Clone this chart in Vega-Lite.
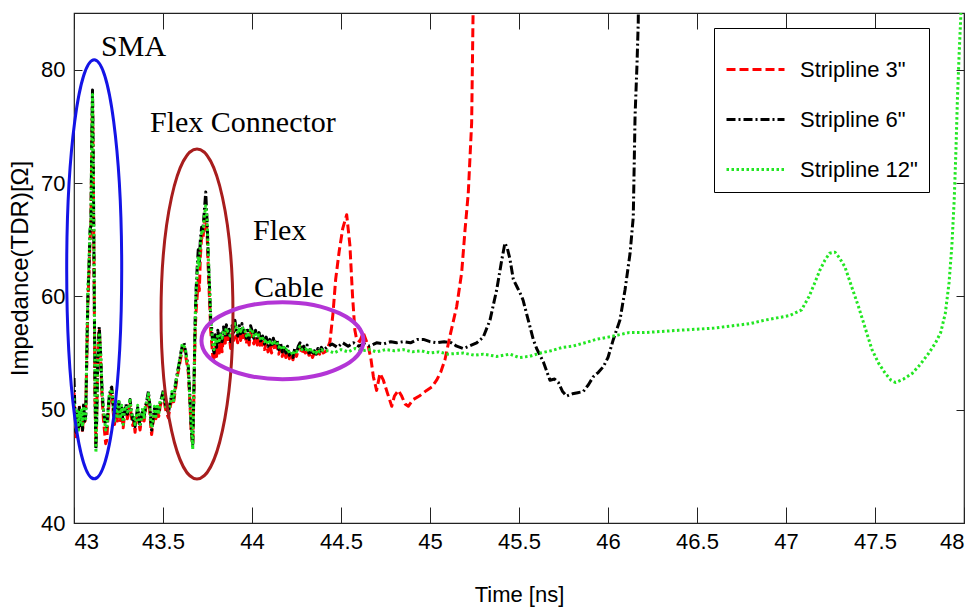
{
  "$schema": "https://vega.github.io/schema/vega-lite/v6.json",
  "width": 890,
  "height": 510,
  "autosize": {"type": "none"},
  "padding": {"left": 74, "top": 13, "right": 15, "bottom": 91},
  "background": "white",
  "datasets": {
    "s3": [
      {"t":43.000,"z":51.5},{"t":43.006,"z":49.0},{"t":43.012,"z":47.6},{"t":43.018,"z":49.2},{"t":43.024,"z":48.0},{"t":43.030,"z":50.4},{"t":43.036,"z":48.9},{"t":43.042,"z":49.3},{"t":43.048,"z":48.0},{"t":43.054,"z":50.1},{"t":43.060,"z":48.7},{"t":43.066,"z":49.8},{"t":43.072,"z":54.6},{"t":43.078,"z":59.5},{"t":43.084,"z":62.0},{"t":43.090,"z":65.0},{"t":43.095,"z":66.0},{"t":43.100,"z":73.5},{"t":43.104,"z":77.5},{"t":43.108,"z":71.0},{"t":43.113,"z":61.5},{"t":43.118,"z":51.0},{"t":43.123,"z":46.8},{"t":43.128,"z":50.0},{"t":43.133,"z":54.5},{"t":43.138,"z":56.5},{"t":43.142,"z":57.0},{"t":43.148,"z":55.0},{"t":43.153,"z":53.0},{"t":43.158,"z":51.0},{"t":43.165,"z":49.2},{"t":43.172,"z":48.0},{"t":43.178,"z":47.0},{"t":43.184,"z":47.3},{"t":43.190,"z":49.0},{"t":43.197,"z":50.6},{"t":43.205,"z":51.3},{"t":43.212,"z":51.8},{"t":43.220,"z":49.8},{"t":43.228,"z":48.7},{"t":43.236,"z":50.2},{"t":43.244,"z":49.0},{"t":43.252,"z":50.3},{"t":43.260,"z":48.9},{"t":43.268,"z":49.8},{"t":43.276,"z":48.4},{"t":43.284,"z":49.5},{"t":43.292,"z":50.1},{"t":43.300,"z":49.2},{"t":43.308,"z":50.0},{"t":43.315,"z":50.5},{"t":43.322,"z":49.4},{"t":43.330,"z":48.6},{"t":43.337,"z":49.0},{"t":43.343,"z":48.0},{"t":43.350,"z":49.0},{"t":43.358,"z":49.8},{"t":43.365,"z":48.8},{"t":43.371,"z":48.2},{"t":43.378,"z":49.0},{"t":43.386,"z":49.7},{"t":43.394,"z":49.0},{"t":43.402,"z":50.0},{"t":43.410,"z":50.6},{"t":43.418,"z":51.2},{"t":43.426,"z":49.8},{"t":43.432,"z":48.4},{"t":43.436,"z":47.8},{"t":43.444,"z":48.8},{"t":43.452,"z":49.7},{"t":43.460,"z":49.2},{"t":43.468,"z":50.0},{"t":43.476,"z":49.4},{"t":43.484,"z":50.3},{"t":43.494,"z":50.9},{"t":43.502,"z":51.4},{"t":43.510,"z":50.4},{"t":43.518,"z":49.8},{"t":43.530,"z":49.3},{"t":43.540,"z":50.2},{"t":43.550,"z":51.0},{"t":43.560,"z":50.7},{"t":43.570,"z":51.8},{"t":43.580,"z":52.9},{"t":43.590,"z":53.7},{"t":43.600,"z":54.6},{"t":43.608,"z":55.2},{"t":43.618,"z":55.5},{"t":43.626,"z":54.9},{"t":43.634,"z":54.1},{"t":43.642,"z":53.3},{"t":43.650,"z":51.0},{"t":43.658,"z":48.2},{"t":43.667,"z":46.9},{"t":43.674,"z":51.5},{"t":43.680,"z":56.5},{"t":43.685,"z":58.5},{"t":43.692,"z":60.0},{"t":43.698,"z":61.5},{"t":43.704,"z":60.5},{"t":43.710,"z":63.5},{"t":43.717,"z":65.2},{"t":43.724,"z":65.0},{"t":43.732,"z":66.5},{"t":43.740,"z":67.0},{"t":43.748,"z":65.5},{"t":43.755,"z":62.0},{"t":43.762,"z":59.5},{"t":43.768,"z":57.0},{"t":43.773,"z":56.0},{"t":43.780,"z":54.6},{"t":43.787,"z":54.2},{"t":43.794,"z":55.8},{"t":43.801,"z":54.7},{"t":43.808,"z":56.3},{"t":43.816,"z":55.0},{"t":43.824,"z":56.2},{"t":43.832,"z":55.1},{"t":43.840,"z":56.6},{"t":43.848,"z":55.6},{"t":43.856,"z":56.9},{"t":43.864,"z":55.9},{"t":43.872,"z":56.6},{"t":43.880,"z":55.4},{"t":43.888,"z":56.8},{"t":43.896,"z":56.1},{"t":43.904,"z":57.3},{"t":43.912,"z":56.4},{"t":43.920,"z":55.9},{"t":43.928,"z":56.9},{"t":43.936,"z":56.1},{"t":43.944,"z":57.0},{"t":43.952,"z":56.2},{"t":43.960,"z":56.7},{"t":43.968,"z":55.8},{"t":43.976,"z":56.5},{"t":43.984,"z":55.7},{"t":43.992,"z":56.8},{"t":44.000,"z":56.4},{"t":44.010,"z":55.8},{"t":44.020,"z":56.5},{"t":44.030,"z":55.7},{"t":44.040,"z":56.3},{"t":44.050,"z":55.4},{"t":44.060,"z":56.0},{"t":44.070,"z":55.3},{"t":44.080,"z":55.9},{"t":44.090,"z":55.1},{"t":44.100,"z":55.8},{"t":44.110,"z":55.0},{"t":44.120,"z":55.8},{"t":44.130,"z":55.2},{"t":44.140,"z":55.7},{"t":44.150,"z":54.9},{"t":44.160,"z":55.4},{"t":44.170,"z":54.7},{"t":44.180,"z":55.3},{"t":44.190,"z":54.6},{"t":44.200,"z":55.2},{"t":44.210,"z":54.5},{"t":44.220,"z":55.0},{"t":44.230,"z":54.4},{"t":44.240,"z":55.1},{"t":44.250,"z":54.7},{"t":44.260,"z":55.3},{"t":44.270,"z":55.6},{"t":44.280,"z":54.9},{"t":44.290,"z":55.3},{"t":44.300,"z":55.0},{"t":44.310,"z":55.4},{"t":44.320,"z":54.8},{"t":44.330,"z":55.1},{"t":44.340,"z":54.6},{"t":44.350,"z":55.0},{"t":44.360,"z":54.7},{"t":44.370,"z":55.2},{"t":44.380,"z":54.9},{"t":44.390,"z":55.3},{"t":44.400,"z":55.0},{"t":44.420,"z":55.2},{"t":44.438,"z":56.0},{"t":44.455,"z":58.5},{"t":44.470,"z":61.5},{"t":44.490,"z":64.0},{"t":44.510,"z":66.0},{"t":44.532,"z":67.2},{"t":44.550,"z":64.5},{"t":44.565,"z":60.0},{"t":44.578,"z":57.0},{"t":44.588,"z":56.2},{"t":44.605,"z":56.0},{"t":44.625,"z":56.8},{"t":44.653,"z":55.6},{"t":44.668,"z":54.5},{"t":44.682,"z":52.9},{"t":44.700,"z":51.7},{"t":44.719,"z":53.2},{"t":44.738,"z":52.6},{"t":44.760,"z":51.5},{"t":44.785,"z":50.3},{"t":44.800,"z":51.2},{"t":44.822,"z":51.7},{"t":44.841,"z":51.2},{"t":44.860,"z":50.5},{"t":44.878,"z":50.3},{"t":44.906,"z":50.9},{"t":44.940,"z":51.2},{"t":44.981,"z":51.7},{"t":45.010,"z":52.0},{"t":45.037,"z":52.6},{"t":45.060,"z":53.3},{"t":45.084,"z":54.4},{"t":45.112,"z":56.5},{"t":45.150,"z":59.1},{"t":45.178,"z":62.1},{"t":45.197,"z":65.9},{"t":45.215,"z":69.1},{"t":45.234,"z":75.3},{"t":45.242,"z":85.0},{"t":45.248,"z":95.0}
    ],
    "s6": [
      {"t":43.000,"z":52.8},{"t":43.006,"z":49.5},{"t":43.012,"z":48.0},{"t":43.018,"z":49.6},{"t":43.024,"z":48.3},{"t":43.030,"z":50.2},{"t":43.036,"z":48.6},{"t":43.042,"z":49.8},{"t":43.048,"z":48.2},{"t":43.054,"z":50.6},{"t":43.060,"z":49.0},{"t":43.066,"z":49.5},{"t":43.072,"z":55.0},{"t":43.078,"z":60.0},{"t":43.084,"z":62.5},{"t":43.090,"z":65.8},{"t":43.095,"z":66.2},{"t":43.100,"z":74.0},{"t":43.104,"z":78.2},{"t":43.108,"z":72.0},{"t":43.113,"z":62.0},{"t":43.118,"z":52.0},{"t":43.123,"z":46.5},{"t":43.128,"z":49.5},{"t":43.133,"z":54.0},{"t":43.138,"z":56.0},{"t":43.142,"z":57.3},{"t":43.148,"z":55.5},{"t":43.153,"z":53.5},{"t":43.158,"z":51.5},{"t":43.165,"z":50.0},{"t":43.172,"z":49.2},{"t":43.178,"z":48.6},{"t":43.184,"z":48.5},{"t":43.190,"z":49.8},{"t":43.197,"z":51.0},{"t":43.205,"z":51.8},{"t":43.212,"z":52.0},{"t":43.220,"z":50.4},{"t":43.228,"z":49.2},{"t":43.236,"z":50.6},{"t":43.244,"z":49.6},{"t":43.252,"z":50.7},{"t":43.260,"z":49.4},{"t":43.268,"z":50.2},{"t":43.276,"z":48.9},{"t":43.284,"z":49.8},{"t":43.292,"z":50.5},{"t":43.300,"z":49.6},{"t":43.308,"z":50.3},{"t":43.315,"z":50.9},{"t":43.322,"z":49.9},{"t":43.330,"z":49.1},{"t":43.337,"z":49.5},{"t":43.343,"z":48.5},{"t":43.350,"z":49.4},{"t":43.358,"z":50.2},{"t":43.365,"z":49.2},{"t":43.371,"z":48.5},{"t":43.378,"z":49.3},{"t":43.386,"z":50.0},{"t":43.394,"z":49.4},{"t":43.402,"z":50.3},{"t":43.410,"z":50.9},{"t":43.418,"z":51.6},{"t":43.426,"z":50.4},{"t":43.432,"z":49.0},{"t":43.436,"z":48.2},{"t":43.444,"z":49.2},{"t":43.452,"z":50.1},{"t":43.460,"z":49.6},{"t":43.468,"z":50.3},{"t":43.476,"z":49.8},{"t":43.484,"z":50.6},{"t":43.494,"z":51.2},{"t":43.502,"z":51.7},{"t":43.510,"z":50.8},{"t":43.518,"z":50.2},{"t":43.530,"z":49.7},{"t":43.540,"z":50.6},{"t":43.550,"z":51.4},{"t":43.560,"z":51.0},{"t":43.570,"z":52.2},{"t":43.580,"z":53.2},{"t":43.590,"z":54.0},{"t":43.600,"z":55.0},{"t":43.608,"z":55.6},{"t":43.618,"z":55.9},{"t":43.626,"z":55.2},{"t":43.634,"z":54.5},{"t":43.642,"z":53.8},{"t":43.650,"z":51.5},{"t":43.658,"z":48.5},{"t":43.667,"z":46.7},{"t":43.674,"z":52.0},{"t":43.680,"z":57.5},{"t":43.685,"z":60.3},{"t":43.692,"z":62.5},{"t":43.698,"z":64.1},{"t":43.704,"z":63.0},{"t":43.710,"z":65.0},{"t":43.717,"z":66.1},{"t":43.724,"z":65.8},{"t":43.732,"z":67.5},{"t":43.740,"z":69.2},{"t":43.748,"z":66.5},{"t":43.755,"z":63.2},{"t":43.762,"z":60.5},{"t":43.768,"z":58.0},{"t":43.773,"z":57.3},{"t":43.780,"z":55.5},{"t":43.787,"z":55.0},{"t":43.794,"z":56.6},{"t":43.801,"z":55.5},{"t":43.808,"z":57.0},{"t":43.816,"z":55.8},{"t":43.824,"z":56.9},{"t":43.832,"z":56.0},{"t":43.840,"z":57.3},{"t":43.848,"z":56.4},{"t":43.856,"z":57.5},{"t":43.864,"z":56.6},{"t":43.872,"z":57.1},{"t":43.880,"z":56.0},{"t":43.888,"z":57.4},{"t":43.896,"z":56.8},{"t":43.904,"z":57.9},{"t":43.912,"z":57.0},{"t":43.920,"z":56.5},{"t":43.928,"z":57.4},{"t":43.936,"z":56.7},{"t":43.944,"z":57.6},{"t":43.952,"z":56.8},{"t":43.960,"z":57.2},{"t":43.968,"z":56.3},{"t":43.976,"z":57.0},{"t":43.984,"z":56.2},{"t":43.992,"z":57.4},{"t":44.000,"z":57.0},{"t":44.010,"z":56.3},{"t":44.020,"z":57.0},{"t":44.030,"z":56.2},{"t":44.040,"z":56.8},{"t":44.050,"z":55.9},{"t":44.060,"z":56.5},{"t":44.070,"z":55.8},{"t":44.080,"z":56.4},{"t":44.090,"z":55.6},{"t":44.100,"z":56.2},{"t":44.110,"z":55.5},{"t":44.120,"z":56.3},{"t":44.130,"z":55.7},{"t":44.140,"z":56.2},{"t":44.150,"z":55.3},{"t":44.160,"z":55.9},{"t":44.170,"z":55.1},{"t":44.180,"z":55.7},{"t":44.190,"z":55.0},{"t":44.200,"z":55.6},{"t":44.210,"z":54.8},{"t":44.220,"z":55.2},{"t":44.230,"z":54.6},{"t":44.240,"z":55.4},{"t":44.250,"z":55.0},{"t":44.260,"z":55.6},{"t":44.270,"z":55.9},{"t":44.280,"z":55.2},{"t":44.290,"z":55.6},{"t":44.300,"z":55.3},{"t":44.310,"z":55.7},{"t":44.320,"z":55.0},{"t":44.330,"z":55.4},{"t":44.340,"z":54.8},{"t":44.350,"z":55.2},{"t":44.360,"z":54.9},{"t":44.370,"z":55.4},{"t":44.380,"z":55.1},{"t":44.390,"z":55.5},{"t":44.400,"z":55.2},{"t":44.420,"z":55.5},{"t":44.450,"z":55.8},{"t":44.480,"z":55.5},{"t":44.510,"z":55.9},{"t":44.540,"z":55.6},{"t":44.570,"z":55.9},{"t":44.600,"z":55.6},{"t":44.630,"z":55.8},{"t":44.660,"z":55.6},{"t":44.700,"z":55.9},{"t":44.740,"z":55.8},{"t":44.780,"z":56.0},{"t":44.813,"z":55.9},{"t":44.850,"z":56.0},{"t":44.890,"z":55.9},{"t":44.930,"z":56.2},{"t":44.963,"z":56.2},{"t":45.000,"z":56.0},{"t":45.038,"z":55.9},{"t":45.080,"z":56.0},{"t":45.120,"z":55.9},{"t":45.150,"z":55.6},{"t":45.187,"z":55.4},{"t":45.220,"z":55.6},{"t":45.262,"z":55.9},{"t":45.299,"z":56.4},{"t":45.337,"z":57.9},{"t":45.375,"z":60.6},{"t":45.403,"z":63.2},{"t":45.421,"z":64.7},{"t":45.435,"z":64.2},{"t":45.449,"z":63.3},{"t":45.468,"z":61.5},{"t":45.490,"z":60.8},{"t":45.515,"z":60.0},{"t":45.524,"z":59.6},{"t":45.552,"z":57.9},{"t":45.580,"z":56.2},{"t":45.599,"z":55.4},{"t":45.637,"z":54.2},{"t":45.674,"z":52.6},{"t":45.700,"z":52.7},{"t":45.721,"z":52.4},{"t":45.745,"z":51.6},{"t":45.768,"z":51.2},{"t":45.800,"z":51.4},{"t":45.830,"z":51.5},{"t":45.861,"z":51.6},{"t":45.890,"z":52.2},{"t":45.917,"z":52.9},{"t":45.946,"z":53.3},{"t":45.974,"z":53.8},{"t":46.000,"z":54.6},{"t":46.030,"z":56.2},{"t":46.067,"z":57.9},{"t":46.096,"z":60.6},{"t":46.124,"z":63.8},{"t":46.142,"z":67.0},{"t":46.152,"z":75.9},{"t":46.163,"z":80.5},{"t":46.170,"z":84.2},{"t":46.176,"z":95.0}
    ],
    "s12": [
      {"t":43.000,"z":51.0},{"t":43.006,"z":48.6},{"t":43.012,"z":48.4},{"t":43.018,"z":49.9},{"t":43.024,"z":48.0},{"t":43.030,"z":49.9},{"t":43.036,"z":48.9},{"t":43.042,"z":50.1},{"t":43.048,"z":48.5},{"t":43.054,"z":50.3},{"t":43.060,"z":49.3},{"t":43.066,"z":49.2},{"t":43.072,"z":55.5},{"t":43.078,"z":60.5},{"t":43.084,"z":63.0},{"t":43.090,"z":66.0},{"t":43.095,"z":66.5},{"t":43.100,"z":74.5},{"t":43.104,"z":77.8},{"t":43.108,"z":72.5},{"t":43.113,"z":62.5},{"t":43.118,"z":51.5},{"t":43.123,"z":46.2},{"t":43.128,"z":49.2},{"t":43.133,"z":53.8},{"t":43.138,"z":55.8},{"t":43.142,"z":56.8},{"t":43.148,"z":55.7},{"t":43.153,"z":53.8},{"t":43.158,"z":51.8},{"t":43.165,"z":50.2},{"t":43.172,"z":49.0},{"t":43.178,"z":48.2},{"t":43.184,"z":48.3},{"t":43.190,"z":49.6},{"t":43.197,"z":51.2},{"t":43.205,"z":51.6},{"t":43.212,"z":51.8},{"t":43.220,"z":50.6},{"t":43.228,"z":49.0},{"t":43.236,"z":50.8},{"t":43.244,"z":49.4},{"t":43.252,"z":50.9},{"t":43.260,"z":49.2},{"t":43.268,"z":50.4},{"t":43.276,"z":48.7},{"t":43.284,"z":50.0},{"t":43.292,"z":50.3},{"t":43.300,"z":49.8},{"t":43.308,"z":50.1},{"t":43.315,"z":51.0},{"t":43.322,"z":49.7},{"t":43.330,"z":49.3},{"t":43.337,"z":49.3},{"t":43.343,"z":48.7},{"t":43.350,"z":49.2},{"t":43.358,"z":50.4},{"t":43.365,"z":49.0},{"t":43.371,"z":48.7},{"t":43.378,"z":49.1},{"t":43.386,"z":50.2},{"t":43.394,"z":49.2},{"t":43.402,"z":50.5},{"t":43.410,"z":50.7},{"t":43.418,"z":51.4},{"t":43.426,"z":50.6},{"t":43.432,"z":48.8},{"t":43.436,"z":48.4},{"t":43.444,"z":49.0},{"t":43.452,"z":50.3},{"t":43.460,"z":49.4},{"t":43.468,"z":50.5},{"t":43.476,"z":49.6},{"t":43.484,"z":50.8},{"t":43.494,"z":51.0},{"t":43.502,"z":51.5},{"t":43.510,"z":51.0},{"t":43.518,"z":50.0},{"t":43.530,"z":49.9},{"t":43.540,"z":50.4},{"t":43.550,"z":51.6},{"t":43.560,"z":50.8},{"t":43.570,"z":52.4},{"t":43.580,"z":53.0},{"t":43.590,"z":54.2},{"t":43.600,"z":54.8},{"t":43.608,"z":55.8},{"t":43.618,"z":55.6},{"t":43.626,"z":55.4},{"t":43.634,"z":54.3},{"t":43.642,"z":54.0},{"t":43.650,"z":51.2},{"t":43.658,"z":48.8},{"t":43.667,"z":46.5},{"t":43.674,"z":52.3},{"t":43.680,"z":57.2},{"t":43.685,"z":60.0},{"t":43.692,"z":62.0},{"t":43.698,"z":63.5},{"t":43.704,"z":62.6},{"t":43.710,"z":64.5},{"t":43.717,"z":65.6},{"t":43.724,"z":65.5},{"t":43.732,"z":67.0},{"t":43.740,"z":68.0},{"t":43.748,"z":66.8},{"t":43.755,"z":63.5},{"t":43.762,"z":60.8},{"t":43.768,"z":58.3},{"t":43.773,"z":57.0},{"t":43.780,"z":55.8},{"t":43.787,"z":55.3},{"t":43.794,"z":56.3},{"t":43.801,"z":55.8},{"t":43.808,"z":56.7},{"t":43.816,"z":56.1},{"t":43.824,"z":56.6},{"t":43.832,"z":56.3},{"t":43.840,"z":57.0},{"t":43.848,"z":56.7},{"t":43.856,"z":57.2},{"t":43.864,"z":56.9},{"t":43.872,"z":56.8},{"t":43.880,"z":56.3},{"t":43.888,"z":57.1},{"t":43.896,"z":57.0},{"t":43.904,"z":57.6},{"t":43.912,"z":57.2},{"t":43.920,"z":56.7},{"t":43.928,"z":57.1},{"t":43.936,"z":56.9},{"t":43.944,"z":57.3},{"t":43.952,"z":57.0},{"t":43.960,"z":57.0},{"t":43.968,"z":56.5},{"t":43.976,"z":56.8},{"t":43.984,"z":56.4},{"t":43.992,"z":57.1},{"t":44.000,"z":57.1},{"t":44.010,"z":56.5},{"t":44.020,"z":56.8},{"t":44.030,"z":56.4},{"t":44.040,"z":56.6},{"t":44.050,"z":56.1},{"t":44.060,"z":56.3},{"t":44.070,"z":56.0},{"t":44.080,"z":56.2},{"t":44.090,"z":55.8},{"t":44.100,"z":56.0},{"t":44.110,"z":55.7},{"t":44.120,"z":56.1},{"t":44.130,"z":55.9},{"t":44.140,"z":56.0},{"t":44.150,"z":55.5},{"t":44.160,"z":55.7},{"t":44.170,"z":55.3},{"t":44.180,"z":55.5},{"t":44.190,"z":55.2},{"t":44.200,"z":55.4},{"t":44.210,"z":55.0},{"t":44.220,"z":55.1},{"t":44.230,"z":54.8},{"t":44.240,"z":55.2},{"t":44.250,"z":55.1},{"t":44.260,"z":55.4},{"t":44.270,"z":55.6},{"t":44.280,"z":55.3},{"t":44.290,"z":55.4},{"t":44.300,"z":55.3},{"t":44.310,"z":55.5},{"t":44.320,"z":55.1},{"t":44.330,"z":55.3},{"t":44.340,"z":55.0},{"t":44.350,"z":55.2},{"t":44.360,"z":55.0},{"t":44.370,"z":55.3},{"t":44.380,"z":55.1},{"t":44.390,"z":55.3},{"t":44.400,"z":55.2},{"t":44.430,"z":55.2},{"t":44.460,"z":55.0},{"t":44.500,"z":55.3},{"t":44.540,"z":55.1},{"t":44.580,"z":55.4},{"t":44.620,"z":55.2},{"t":44.660,"z":55.3},{"t":44.700,"z":55.1},{"t":44.750,"z":55.3},{"t":44.800,"z":55.2},{"t":44.850,"z":55.3},{"t":44.900,"z":55.1},{"t":44.950,"z":55.2},{"t":45.000,"z":55.0},{"t":45.050,"z":55.1},{"t":45.100,"z":54.9},{"t":45.187,"z":55.0},{"t":45.250,"z":54.8},{"t":45.300,"z":54.9},{"t":45.375,"z":54.7},{"t":45.450,"z":54.9},{"t":45.500,"z":54.6},{"t":45.558,"z":54.7},{"t":45.620,"z":55.0},{"t":45.680,"z":55.2},{"t":45.745,"z":55.5},{"t":45.800,"z":55.6},{"t":45.870,"z":55.9},{"t":45.933,"z":56.2},{"t":46.000,"z":56.4},{"t":46.060,"z":56.6},{"t":46.118,"z":56.8},{"t":46.200,"z":56.8},{"t":46.300,"z":56.9},{"t":46.393,"z":57.0},{"t":46.500,"z":57.1},{"t":46.596,"z":57.2},{"t":46.700,"z":57.4},{"t":46.800,"z":57.6},{"t":46.880,"z":57.9},{"t":46.950,"z":58.1},{"t":47.020,"z":58.3},{"t":47.087,"z":58.8},{"t":47.130,"z":60.0},{"t":47.162,"z":61.2},{"t":47.190,"z":62.3},{"t":47.219,"z":63.2},{"t":47.245,"z":63.8},{"t":47.275,"z":63.9},{"t":47.300,"z":63.4},{"t":47.331,"z":62.6},{"t":47.370,"z":60.8},{"t":47.407,"z":59.1},{"t":47.445,"z":57.2},{"t":47.483,"z":55.3},{"t":47.520,"z":54.1},{"t":47.558,"z":53.2},{"t":47.590,"z":52.6},{"t":47.615,"z":52.4},{"t":47.660,"z":52.7},{"t":47.709,"z":53.2},{"t":47.755,"z":54.0},{"t":47.803,"z":55.0},{"t":47.840,"z":55.9},{"t":47.869,"z":56.8},{"t":47.895,"z":58.5},{"t":47.916,"z":61.2},{"t":47.932,"z":64.5},{"t":47.945,"z":68.5},{"t":47.955,"z":73.0},{"t":47.963,"z":77.4},{"t":47.973,"z":81.5},{"t":47.982,"z":84.7},{"t":47.990,"z":95.0}
    ],
    "notes": [
      {"t":43.152,"z":81.2,"label":"SMA"},
      {"t":43.427,"z":74.5,"label":"Flex Connector"},
      {"t":44.006,"z":65.0,"label":"Flex"},
      {"t":44.011,"z":59.9,"label":"Cable"}
    ],
    "c1": [{"t":43.1135,"z":62.38}],
    "c2": [{"t":43.691,"z":58.45}],
    "c3": [{"t":44.171,"z":56.09}]
  },
  "layer": [
    {
      "data": {"name": "s3"},
      "mark": {"type": "line", "strokeWidth": 3, "clip": true, "strokeCap": "butt", "strokeJoin": "round"},
      "encoding": {
        "x": {"field": "t", "type": "quantitative", "scale": {"domain": [43, 48], "nice": false, "zero": false},
          "axis": {"orient": "bottom", "values": [43, 43.5, 44, 44.5, 45, 45.5, 46, 46.5, 47, 47.5, 48], "format": ".1~f", "tickSize": -16, "labelPadding": 24, "title": "Time [ns]", "titlePadding": 32}},
        "y": {"field": "z", "type": "quantitative", "scale": {"domain": [40, 85], "nice": false, "zero": false},
          "axis": {"orient": "left", "values": [40, 50, 60, 70, 80], "tickSize": -8, "labelPadding": 17, "title": "Impedance(TDR)[Ω]", "titlePadding": 8}},
        "color": {"datum": "Stripline 3\"", "type": "nominal",
          "scale": {"domain": ["Stripline 3\"", "Stripline 6\"", "Stripline 12\""], "range": ["#ff0000", "#000000", "#22e622"]},
          "legend": {"orient": "none", "legendX": 640, "legendY": 15, "title": null}},
        "strokeDash": {"datum": "Stripline 3\"", "type": "nominal",
          "scale": {"domain": ["Stripline 3\"", "Stripline 6\"", "Stripline 12\""], "range": [[9, 4], [9, 3, 2, 3], [2.5, 2.5]]},
          "legend": {"orient": "none", "legendX": 640, "legendY": 15, "title": null}}
      }
    },
    {
      "data": {"name": "s6"},
      "mark": {"type": "line", "strokeWidth": 3, "clip": true, "strokeCap": "butt", "strokeJoin": "round"},
      "encoding": {
        "x": {"field": "t", "type": "quantitative",
          "axis": {"orient": "top", "values": [43, 43.5, 44, 44.5, 45, 45.5, 46, 46.5, 47, 47.5, 48], "labels": false, "tickSize": -16, "title": null}},
        "y": {"field": "z", "type": "quantitative",
          "axis": {"orient": "right", "values": [40, 50, 60, 70, 80], "labels": false, "tickSize": -8, "title": null}},
        "color": {"datum": "Stripline 6\"", "type": "nominal"},
        "strokeDash": {"datum": "Stripline 6\"", "type": "nominal"}
      }
    },
    {
      "data": {"name": "s12"},
      "mark": {"type": "line", "strokeWidth": 3, "clip": true, "strokeCap": "butt", "strokeJoin": "round"},
      "encoding": {
        "x": {"field": "t", "type": "quantitative", "axis": null},
        "y": {"field": "z", "type": "quantitative", "axis": null},
        "color": {"datum": "Stripline 12\"", "type": "nominal"},
        "strokeDash": {"datum": "Stripline 12\"", "type": "nominal"}
      }
    },
    {
      "data": {"name": "c1"},
      "mark": {"type": "point", "filled": false, "color": "#1414e6", "strokeWidth": 3, "opacity": 1, "size": 175561,
        "shape": "M0.1313,0C0.1313,0.5523,0.0725,1,0,1C-0.0725,1,-0.1313,0.5523,-0.1313,0C-0.1313,-0.5523,-0.0725,-1,0,-1C0.0725,-1,0.1313,-0.5523,0.1313,0Z"},
      "encoding": {
        "x": {"field": "t", "type": "quantitative", "axis": null},
        "y": {"field": "z", "type": "quantitative", "axis": null}
      }
    },
    {
      "data": {"name": "c2"},
      "mark": {"type": "point", "filled": false, "color": "#a81d1d", "strokeWidth": 3, "opacity": 1, "size": 108900,
        "shape": "M0.218,0C0.218,0.5523,0.1204,1,0,1C-0.1204,1,-0.218,0.5523,-0.218,0C-0.218,-0.5523,-0.1204,-1,0,-1C0.1204,-1,0.218,-0.5523,0.218,0Z"},
      "encoding": {
        "x": {"field": "t", "type": "quantitative", "axis": null},
        "y": {"field": "z", "type": "quantitative", "axis": null}
      }
    },
    {
      "data": {"name": "c3"},
      "mark": {"type": "point", "filled": false, "color": "#b335d6", "strokeWidth": 4, "opacity": 1, "size": 26244,
        "shape": "M1,0C1,0.2625,0.5523,0.4753,0,0.4753C-0.5523,0.4753,-1,0.2625,-1,0C-1,-0.2625,-0.5523,-0.4753,0,-0.4753C0.5523,-0.4753,1,-0.2625,1,0Z"},
      "encoding": {
        "x": {"field": "t", "type": "quantitative", "axis": null},
        "y": {"field": "z", "type": "quantitative", "axis": null}
      }
    },
    {
      "data": {"name": "notes"},
      "mark": {"type": "text", "align": "left", "baseline": "alphabetic", "font": "Liberation Serif", "fontSize": 30, "color": "black"},
      "encoding": {
        "x": {"field": "t", "type": "quantitative", "axis": null},
        "y": {"field": "z", "type": "quantitative", "axis": null},
        "text": {"field": "label"}
      }
    }
  ],
  "resolve": {"axis": {"x": "independent", "y": "independent"}},
  "config": {
    "view": {"stroke": "#222222", "strokeWidth": 1.2},
    "axis": {
      "grid": false, "domain": false, "tickColor": "#222222", "tickWidth": 1,
      "labelFont": "Liberation Sans", "labelFontSize": 22, "labelColor": "black",
      "titleFont": "Liberation Sans", "titleFontSize": 22, "titleFontWeight": "normal", "titleColor": "black"
    },
    "axisLeft": {"titleFontSize": 24},
    "legend": {
      "symbolType": "stroke", "symbolSize": 3364, "symbolStrokeWidth": 3,
      "labelFont": "Liberation Sans", "labelFontSize": 22, "labelColor": "black",
      "strokeColor": "black", "fillColor": "white", "padding": 11, "rowPadding": 8, "labelOffset": 14, "labelLimit": 300
    }
  }
}
